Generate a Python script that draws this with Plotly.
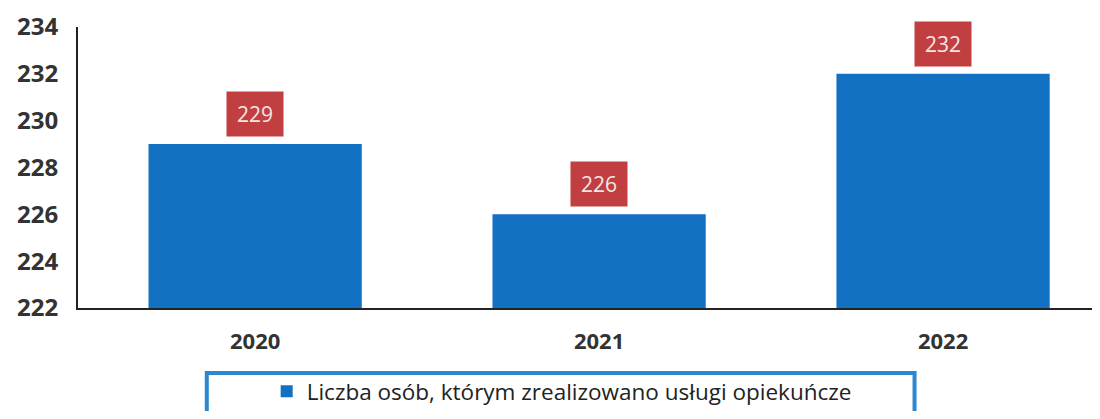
import plotly.graph_objects as go

years = ["2020", "2021", "2022"]
persons = [229, 226, 232]
series_name = "Liczba osób, którym zrealizowano usługi opiekuńcze"
y_ticks = [222, 224, 226, 228, 230, 232, 234]

colors = {
    'bar': '#1271c2',
    'label_bg': '#c13f40',
    'text': '#333333',
    'frame': '#2b87cf',
}

fig = go.Figure()
fig.add_trace(go.Bar(x=years, y=persons, name=series_name,
                     marker_color=colors['bar'], marker_line_width=0,
                     width=0.62))

# value labels in red boxes (category index as x)
for i, val in enumerate(persons):
    fig.add_annotation(x=i, y=val, text=str(val), showarrow=False,
                       yanchor='bottom', yshift=7, width=52, height=40,
                       borderpad=2, bgcolor=colors['label_bg'],
                       font=dict(family='Open Sans', size=21, color='#f4e6e6'))

# legend frame
fig.add_shape(type='rect', xref='paper', yref='paper',
              x0=0.127, x1=0.825, y0=-0.231, y1=-0.45,
              line=dict(color=colors['frame'], width=4))

# page body has an 8px margin, so the figure is smaller than the window
fig.update_layout(
    width=1084, height=403,
    margin=dict(l=70, r=0, t=19, b=103),
    plot_bgcolor='white', paper_bgcolor='white',
    font=dict(family='Open Sans', color=colors['text']),
    showlegend=True,
    legend=dict(orientation='h', x=0.477, xanchor='center',
                yref='container', y=0.048, yanchor='middle',
                font=dict(size=22.5, color='#222222'),
                bgcolor='rgba(0,0,0,0)'),
)

fig.update_yaxes(range=[222, 234], tickvals=y_ticks, showgrid=False,
                 showline=True, linecolor='#222222', linewidth=2,
                 ticks='outside', ticklen=13, tickcolor='white',
                 tickfont=dict(size=24, weight='bold', color=colors['text']),
                 zeroline=False, automargin=False)
fig.update_xaxes(type='category', range=[-0.515, 2.433], showgrid=False,
                 showline=True, linecolor='#222222', linewidth=2,
                 ticks='outside', ticklen=13, tickcolor='white',
                 tickfont=dict(size=22, weight='bold', color=colors['text']),
                 automargin=False)

fig.write_html("out.html")
